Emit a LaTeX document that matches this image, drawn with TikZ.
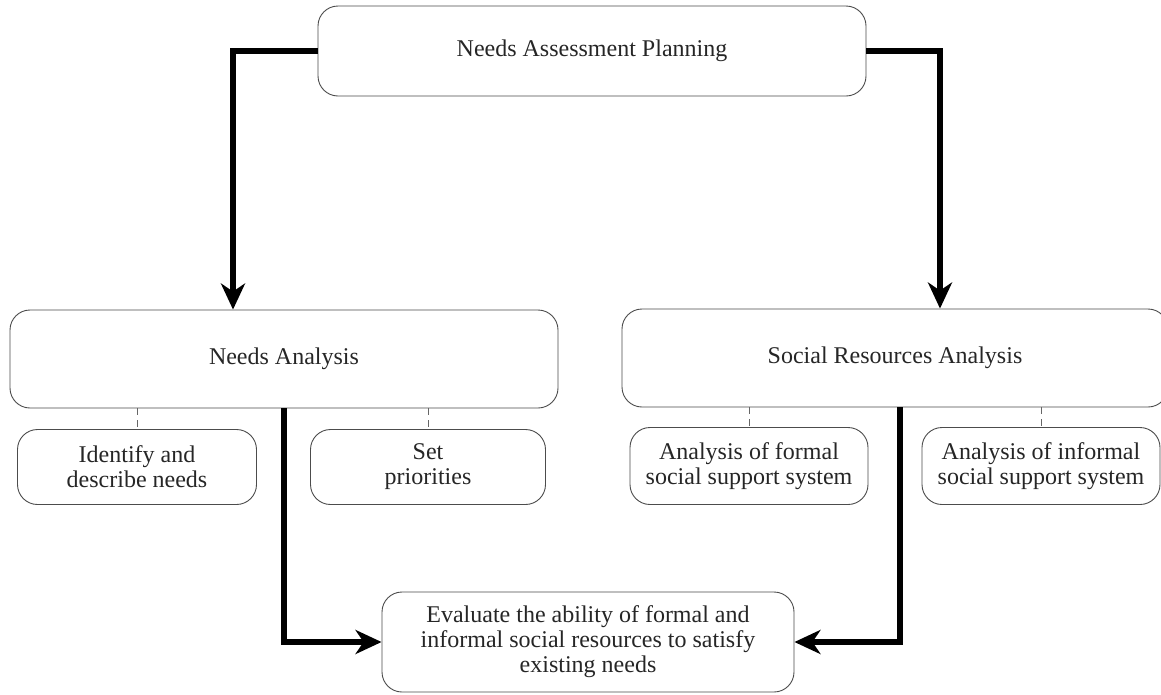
\documentclass[tikz,border=0pt]{standalone}
\usepackage{fontspec}
\setmainfont{Liberation Serif}
\usetikzlibrary{arrows.meta}
\begin{document}
\begin{tikzpicture}[x=1pt,y=-1pt,
  box/.style={draw=black!70, line width=0.9pt, rounded corners=20pt, align=center,
    inner sep=0pt, font=\fontsize{24}{25}\selectfont, text=black!85},
  flow/.style={line width=5.5pt, -{Stealth[length=26pt,width=24pt,inset=8pt]}},
  link/.style={draw=black!60, line width=0.9pt, dash pattern=on 7pt off 5pt}]
\useasboundingbox (0,0) rectangle (1161,694);
\fill[white] (0,0) rectangle (1161,694);
\node[box, minimum width=548pt, minimum height=90pt] (top) at (592,51) {Needs Assessment Planning};
\node[box, minimum width=548pt, minimum height=98pt] (na) at (284,359) {Needs Analysis};
\node[box, minimum width=546pt, minimum height=98pt] (sra) at (895,358) {Social Resources Analysis};
\node[box, minimum width=239pt, minimum height=75pt] (idn) at (137,467) {Identify and\\describe needs};
\node[box, minimum width=235pt, minimum height=75pt] (setp) at (428,467) {Set\\priorities};
\node[box, minimum width=238pt, minimum height=77pt] (afs) at (749,466) {Analysis of formal\\social support system};
\node[box, minimum width=238pt, minimum height=77pt] (ais) at (1041,466) {Analysis of informal\\social support system};
\node[box, minimum width=412pt, minimum height=100pt] (ev) at (588,642) {Evaluate the ability of formal and\\informal social resources to satisfy\\existing needs};
\draw[flow] (top.west) -| ([xshift=-51pt]na.north);
\draw[flow] (top.east) -| ([xshift=45pt]sra.north);
\draw[flow] (na.south) |- (ev.west);
\draw[flow] ([xshift=5pt]sra.south) |- (ev.east);
\draw[link] (idn.north |- na.south) -- (idn.north);
\draw[link] (setp.north |- na.south) -- (setp.north);
\draw[link] (afs.north |- sra.south) -- (afs.north);
\draw[link] (ais.north |- sra.south) -- (ais.north);
\end{tikzpicture}
\end{document}
